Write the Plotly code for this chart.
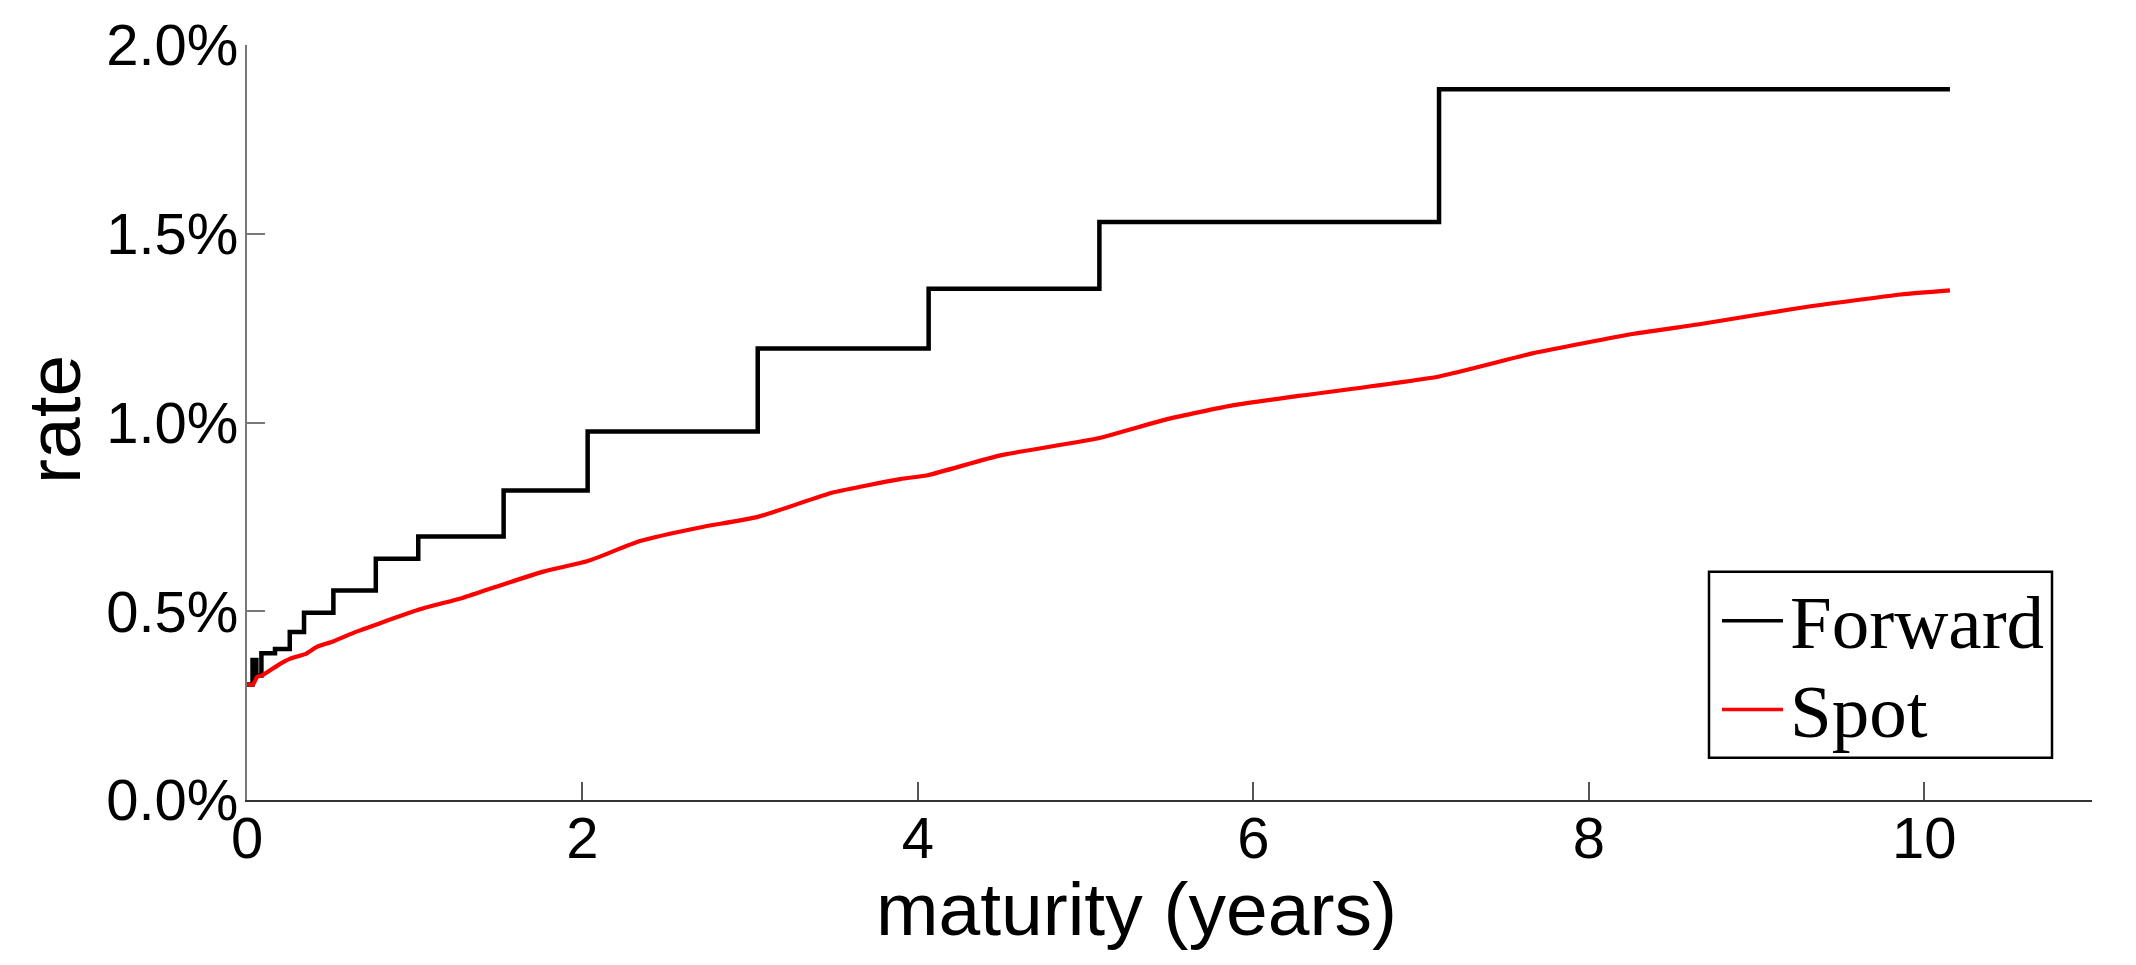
import plotly.graph_objects as go

# ---- data ----
fwd_t = [0.0, 0.033, 0.056, 0.086, 0.167, 0.255, 0.340, 0.515, 0.768, 1.021,
         1.530, 2.031, 3.045, 4.064, 5.082, 7.107, 10.153]
fwd_r = [0.306, 0.371, 0.330, 0.389, 0.400, 0.445, 0.496, 0.555, 0.639, 0.698,
         0.820, 0.976, 1.196, 1.354, 1.531, 1.883, 1.883]

spot_t = [0.0, 0.036, 0.060, 0.090, 0.195, 0.255, 0.354, 0.414, 0.513, 0.653,
          0.772, 1.030, 1.289, 1.527, 1.767, 2.031, 2.343, 2.700, 3.045, 3.498,
          3.894, 4.064, 4.491, 5.082, 5.486, 5.883, 6.281, 7.107, 7.673, 8.270,
          8.668, 9.264, 9.861, 10.153]
spot_r = [0.306, 0.306, 0.326, 0.330, 0.360, 0.374, 0.388, 0.405, 0.420, 0.446,
          0.465, 0.505, 0.536, 0.571, 0.605, 0.633, 0.686, 0.722, 0.750, 0.815,
          0.850, 0.861, 0.913, 0.959, 1.009, 1.046, 1.071, 1.122, 1.184, 1.235,
          1.261, 1.304, 1.339, 1.350]

x_ticks = [0, 2, 4, 6, 8, 10]
y_ticks = [0.0, 0.5, 1.0, 1.5, 2.0]
y_tick_text = ["0.0%", "0.5%", "1.0%", "1.5%", "2.0%"]
series_names = ["Forward", "Spot"]
series_colors = ["#000000", "#ff0000"]

# ---- layout geometry ----
W, H = 2136, 965
ML, MR, MT, MB = 247, 44, 33, 165
PW, PH = W - ML - MR, H - MT - MB


def px(X):
    return (X - ML) / PW


def py(Y):
    return (H - MB - Y) / PH


fig = go.Figure()
fig.add_trace(go.Scatter(x=fwd_t, y=fwd_r, mode="lines", name=series_names[0],
                         line=dict(color=series_colors[0], width=4.5, shape="hv"),
                         showlegend=False))
fig.add_trace(go.Scatter(x=spot_t, y=spot_r, mode="lines", name=series_names[1],
                         line=dict(color=series_colors[1], width=4.2,
                                   shape="spline", smoothing=0.5),
                         showlegend=False))

tick_font = dict(family="Liberation Sans, Arial, sans-serif", size=58, color="black")

fig.update_layout(
    width=W, height=H,
    margin=dict(l=ML, r=MR, t=MT, b=MB, pad=0),
    paper_bgcolor="white", plot_bgcolor="white",
    showlegend=False,
    xaxis=dict(range=[0, 11], tickvals=x_ticks, ticktext=[str(v) for v in x_ticks],
               ticks="inside", ticklen=18, tickwidth=1.5, tickcolor="#555555",
               showline=True, linecolor="#333333", linewidth=2, mirror=False,
               showgrid=False, zeroline=False, tickfont=tick_font,
               ticklabelstandoff=-14),
    yaxis=dict(range=[0, 2], tickvals=y_ticks, ticktext=y_tick_text,
               ticks="inside", ticklen=18, tickwidth=1.5, tickcolor="#777777",
               showline=True, linecolor="#777777", linewidth=2, mirror=False,
               showgrid=False, zeroline=False, tickfont=tick_font,
               ticklabelstandoff=-5),
)

title_font = dict(family="Liberation Sans, Arial, sans-serif", size=75, color="black")
legend_font = dict(family="Liberation Serif, Times New Roman, serif", size=75, color="black")

annotations = [
    dict(text="maturity (years)", xref="paper", yref="paper",
         x=px(1136), y=py(911), xanchor="center", yanchor="middle",
         showarrow=False, font=title_font),
    dict(text="rate", xref="paper", yref="paper",
         x=px(54), y=py(414), xanchor="center", yanchor="middle",
         textangle=-90, showarrow=False, font=title_font),
    dict(text=series_names[0], xref="paper", yref="paper",
         x=px(1788), y=py(620), xanchor="left", yanchor="middle",
         showarrow=False, font=legend_font),
    dict(text=series_names[1], xref="paper", yref="paper",
         x=px(1788), y=py(710), xanchor="left", yanchor="middle",
         showarrow=False, font=legend_font),
]

shapes = [
    dict(type="rect", xref="paper", yref="paper",
         x0=px(1709), x1=px(2052), y0=py(757), y1=py(568),
         line=dict(color="black", width=2.5), fillcolor="white", layer="above"),
    dict(type="line", xref="paper", yref="paper",
         x0=px(1722), x1=px(1783), y0=py(618), y1=py(618),
         line=dict(color=series_colors[0], width=3.5), layer="above"),
    dict(type="line", xref="paper", yref="paper",
         x0=px(1722), x1=px(1783), y0=py(708), y1=py(708),
         line=dict(color=series_colors[1], width=3.5), layer="above"),
]

fig.update_layout(annotations=annotations, shapes=shapes)
fig.write_html("out.html")
